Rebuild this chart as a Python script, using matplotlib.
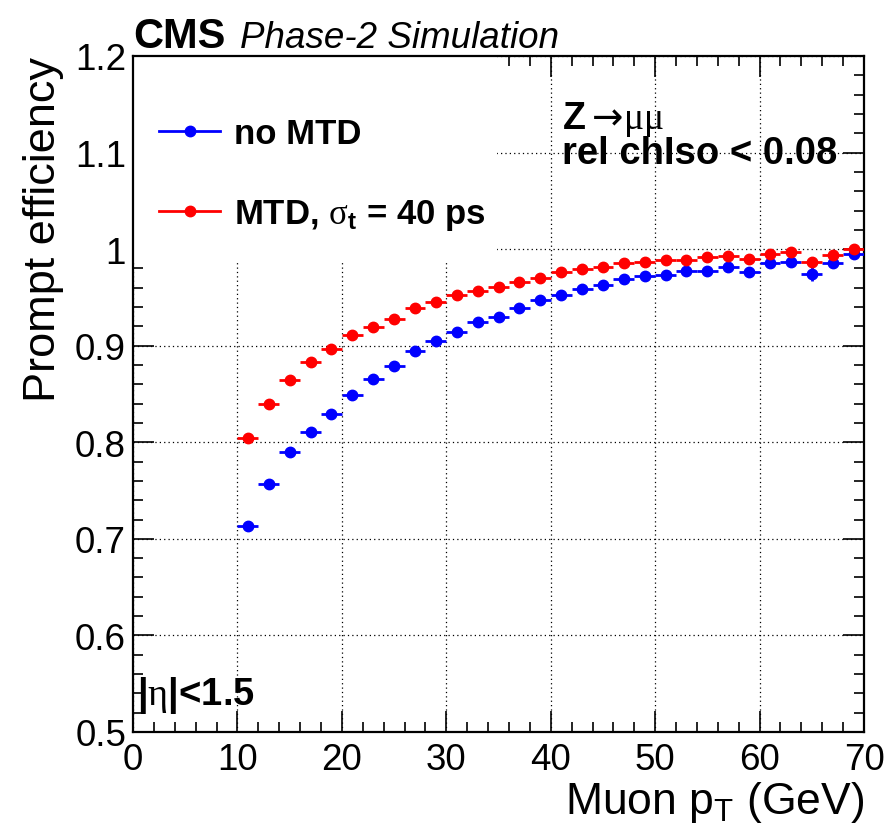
import matplotlib
matplotlib.use("Agg")
import matplotlib.pyplot as plt
from matplotlib.lines import Line2D
from matplotlib.patches import Rectangle
from matplotlib.ticker import MultipleLocator

plt.rcParams['font.family'] = ['Liberation Sans', 'DejaVu Sans']
plt.rcParams['mathtext.fontset'] = 'custom'
plt.rcParams['mathtext.rm'] = 'Liberation Serif'
plt.rcParams['mathtext.sf'] = 'Liberation Sans'
plt.rcParams['mathtext.it'] = 'Liberation Sans:italic'
plt.rcParams['mathtext.bf'] = 'Liberation Sans:bold'
plt.rcParams['mathtext.tt'] = 'DejaVu Sans'

# Muon pT bin centres (GeV), 2 GeV wide bins
pt_bins = [11, 13, 15, 17, 19, 21, 23, 25, 27, 29, 31, 33, 35, 37, 39,
           41, 43, 45, 47, 49, 51, 53, 55, 57, 59, 61, 63, 65, 67, 69]
pt_halfwidth = 1.0

eff_no_mtd = [0.713, 0.757, 0.790, 0.811, 0.829, 0.849, 0.866, 0.879, 0.895, 0.905,
              0.914, 0.925, 0.930, 0.939, 0.947, 0.953, 0.959, 0.963, 0.969, 0.972,
              0.973, 0.977, 0.977, 0.982, 0.976, 0.986, 0.987, 0.974, 0.986, 0.995]
err_no_mtd = [0.003] * 27 + [0.007, 0.003, 0.002]

eff_mtd40 = [0.804, 0.840, 0.864, 0.883, 0.897, 0.911, 0.919, 0.928, 0.939, 0.945,
             0.952, 0.957, 0.961, 0.966, 0.970, 0.976, 0.979, 0.981, 0.986, 0.987,
             0.989, 0.989, 0.992, 0.993, 0.990, 0.995, 0.997, 0.987, 0.994, 1.000]
err_mtd40 = [0.003] * 27 + [0.004, 0.003, 0.002]

series_labels = ["no MTD", r"MTD, $\mathrm{\sigma}_{\mathbf{t}}$ = 40 ps"]
series_colors = ["#0000ff", "#ff0000"]

fig = plt.figure(figsize=(8.88, 8.37), dpi=100)
ax = fig.add_axes([0.1498, 0.1243, 0.8232, 0.8076])

ax.set_xlim(0, 70)
ax.set_ylim(0.5, 1.2)

ax.xaxis.set_major_locator(MultipleLocator(10))
ax.xaxis.set_minor_locator(MultipleLocator(2))
ax.yaxis.set_major_locator(MultipleLocator(0.1))
ax.yaxis.set_minor_locator(MultipleLocator(0.02))

def fmt(v, _):
    s = f"{v:.1f}"
    return "1" if s == "1.0" else s
ax.yaxis.set_major_formatter(plt.FuncFormatter(fmt))
ax.xaxis.set_major_formatter(plt.FuncFormatter(lambda v, _: f"{v:.0f}"))

ax.tick_params(which='both', direction='in', top=True, right=True, width=1.2,
               labelsize=26.5, colors='black')
ax.tick_params(which='major', length=15)
ax.tick_params(which='minor', length=7.5)
ax.tick_params(axis='x', which='major', pad=7)
ax.tick_params(axis='y', which='major', pad=5)
for sp in ax.spines.values():
    sp.set_linewidth(1.6)

ax.set_axisbelow(True)
ax.grid(True, which='major', linestyle=(0, (1, 2.5)), color='black', linewidth=0.9)

# white legend pad covering the grid in the upper-left corner
ax.add_patch(Rectangle((0.0, 0.697), 0.498, 0.303, transform=ax.transAxes,
                       facecolor='white', edgecolor='none', zorder=1))

for eff, err, col in [(eff_no_mtd, err_no_mtd, series_colors[0]),
                      (eff_mtd40, err_mtd40, series_colors[1])]:
    ax.errorbar(pt_bins, eff, xerr=pt_halfwidth, yerr=err, fmt='o', color=col,
                markersize=7.5, elinewidth=2.0, capsize=0, zorder=3)

handles = [Line2D([], [], color=c, marker='o', markersize=7.5, linewidth=2.0)
           for c in series_colors]
leg = ax.legend(handles, series_labels, loc='upper left',
                bbox_to_anchor=(0.017, 0.93), frameon=False,
                prop={'weight': 'bold', 'size': 25}, handlelength=1.75,
                handletextpad=0.4, labelspacing=1.36, borderaxespad=0)

ax.set_xlabel(r"Muon p$_{\mathsf{T}}$ (GeV)", fontsize=32, loc='right', labelpad=2)
ax.set_ylabel("Prompt efficiency", fontsize=32.5, loc='top', labelpad=8)

fig.text(0.1498, 0.9427, "CMS", fontsize=30, fontweight='bold', va='baseline', ha='left')
fig.text(0.270, 0.9427, "Phase-2 Simulation", fontsize=26.5, fontstyle='italic',
         va='baseline', ha='left')

ax.text(0.587, 0.893, r"Z$\mathtt{\rightarrow}\!\mathrm{\mu\mu}$", transform=ax.transAxes,
        fontsize=27, fontweight='bold', va='baseline', ha='left')
ax.text(0.587, 0.842, "rel chIso < 0.08", transform=ax.transAxes, fontsize=27.5,
        fontweight='bold', va='baseline', ha='left')
ax.text(0.005, 0.056, r"|$\mathrm{\eta}$|<1.5", transform=ax.transAxes, fontsize=27.5,
        fontweight='bold', va='center', ha='left')

fig.savefig("out.png", dpi=100)
